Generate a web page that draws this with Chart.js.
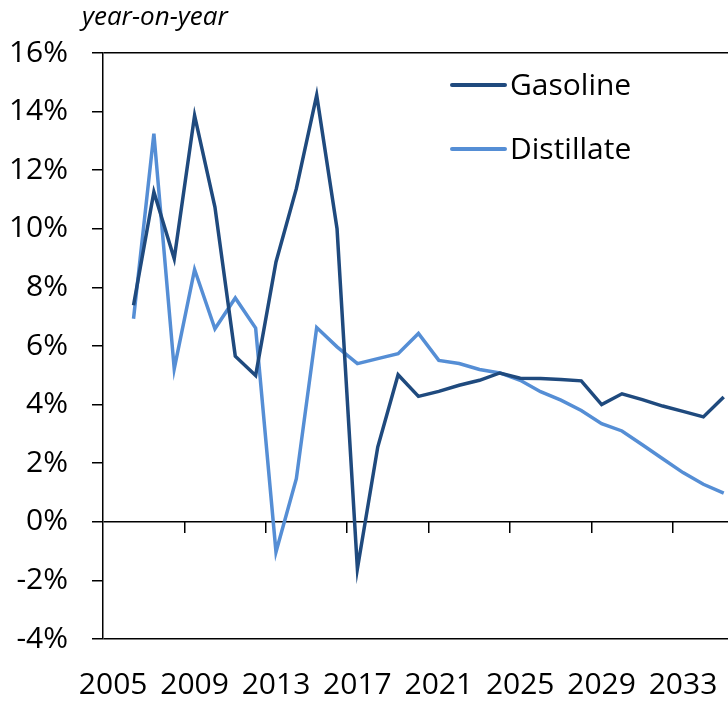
<!DOCTYPE html>
<html>
<head>
<meta charset="utf-8">
<script src="https://cdn.jsdelivr.net/npm/chart.js@4.4.0/dist/chart.umd.min.js"></script>
<style>
  html, body { margin: 0; padding: 0; background: #fff; overflow: hidden; }
  #wrap { width: 728px; height: 703px; position: relative; }
</style>
</head>
<body>
<div id="wrap"><canvas id="c" width="728" height="703"></canvas></div>
<script>
const years = [2006, 2007, 2008, 2009, 2010, 2011, 2012, 2013, 2014, 2015,
               2016, 2017, 2018, 2019, 2020, 2021, 2022, 2023, 2024, 2025,
               2026, 2027, 2028, 2029, 2030, 2031, 2032, 2033, 2034, 2035];
const gasoline = [7.39, 11.26, 8.98, 13.87, 10.74, 5.65, 4.99, 8.87, 11.37, 14.56,
                  10.0, -1.6, 2.55, 5.02, 4.28, 4.45, 4.66, 4.83, 5.08, 4.90,
                  4.89, 4.86, 4.81, 4.00, 4.37, 4.17, 3.95, 3.77, 3.58, 4.26];
const distillate = [6.93, 13.25, 5.22, 8.61, 6.59, 7.64, 6.61, -1.03, 1.47, 6.63,
                    5.97, 5.40, 5.57, 5.74, 6.43, 5.51, 5.40, 5.20, 5.08, 4.83,
                    4.44, 4.15, 3.80, 3.35, 3.10, 2.63, 2.15, 1.68, 1.28, 0.98];
const xLabelTicks = [2005, 2009, 2013, 2017, 2021, 2025, 2029, 2033];
const xBoundaryTicks = [2008.5, 2012.5, 2016.5, 2020.5, 2024.5, 2028.5, 2032.5];
const seriesNames = ['Gasoline', 'Distillate'];
const unitNote = 'year-on-year';

const FONT = "'Open Sans', 'Noto Sans', sans-serif";
const X_MIN = 2004.5, X_MAX = 2035.21;

const toPoints = (vals) => years.map((y, i) => ({ x: y, y: vals[i] }));

const noteAndLegend = {
  id: 'noteAndLegend',
  afterDraw(chart) {
    const ctx = chart.ctx;
    const ca = chart.chartArea;
    ctx.save();
    ctx.fillStyle = '#000';
    ctx.font = "italic 26px " + FONT;
    ctx.textAlign = 'left';
    ctx.textBaseline = 'alphabetic';
    ctx.fillText(unitNote, ca.left - 21, 25);
    ctx.font = "30px " + FONT;
    ctx.textBaseline = 'middle';
    chart.data.datasets.forEach((ds, i) => {
      const y = ca.top + 32 + i * 64;
      ctx.strokeStyle = ds.borderColor;
      ctx.lineWidth = 4;
      ctx.lineCap = 'round';
      ctx.beginPath();
      ctx.moveTo(ca.left + 349, y);
      ctx.lineTo(ca.left + 402, y);
      ctx.stroke();
      ctx.fillStyle = '#000';
      ctx.fillText(ds.label, ca.left + 407, y + 1);
    });
    ctx.restore();
  }
};

new Chart(document.getElementById('c'), {
  type: 'line',
  data: {
    datasets: [
      { label: seriesNames[0], data: toPoints(gasoline), borderColor: '#1F4A7E',
        borderWidth: 3.5, pointRadius: 0, tension: 0, fill: false, xAxisID: 'x', yAxisID: 'y' },
      { label: seriesNames[1], data: toPoints(distillate), borderColor: '#558ED5',
        borderWidth: 3.5, pointRadius: 0, tension: 0, fill: false, xAxisID: 'x', yAxisID: 'y' }
    ]
  },
  options: {
    responsive: false,
    animation: false,
    devicePixelRatio: 1,
    layout: { padding: { top: 53, right: 0, bottom: 0, left: 0 } },
    plugins: { legend: { display: false }, tooltip: { enabled: false }, title: { display: false } },
    scales: {
      x: {
        type: 'linear', axis: 'x', position: 'bottom',
        min: X_MIN, max: X_MAX,
        afterBuildTicks: (s) => { s.ticks = xLabelTicks.map(v => ({ value: v })); },
        afterFit: (s) => { s.height = 64; s.paddingLeft = 0; s.paddingRight = 0; },
        grid: { display: false, drawTicks: false },
        border: { display: false },
        ticks: { color: '#000', font: { family: FONT, size: 30 }, padding: 28,
                 maxRotation: 0, autoSkip: false, callback: (v) => String(v) }
      },
      x0: {
        type: 'linear', axis: 'x', position: { y: 0 },
        min: X_MIN, max: X_MAX,
        afterBuildTicks: (s) => { s.ticks = xBoundaryTicks.map(v => ({ value: v })); },
        afterFit: (s) => { s.height = 0; s.paddingLeft = 0; s.paddingRight = 0; },
        grid: { drawOnChartArea: false, drawTicks: true, tickLength: 11, color: '#000', lineWidth: 1.5 },
        border: { display: false },
        ticks: { display: false }
      },
      y: {
        type: 'linear', position: 'left',
        min: -4, max: 16,
        afterFit: (s) => { s.width = 103; s.paddingTop = 0; s.paddingBottom = 0; },
        ticks: { stepSize: 2, color: '#000', font: { family: FONT, size: 30 }, padding: 24,
                 callback: (v) => v + '%' },
        grid: {
          color: (c) => (c.tick && (c.tick.value === 16 || c.tick.value === -4 || c.tick.value === 0)) ? '#000' : 'rgba(0,0,0,0)',
          tickColor: '#000', tickLength: 11, lineWidth: 1.5
        },
        border: { display: true, color: '#000', width: 1.5 }
      }
    }
  },
  plugins: [noteAndLegend]
});
</script>
</body>
</html>
